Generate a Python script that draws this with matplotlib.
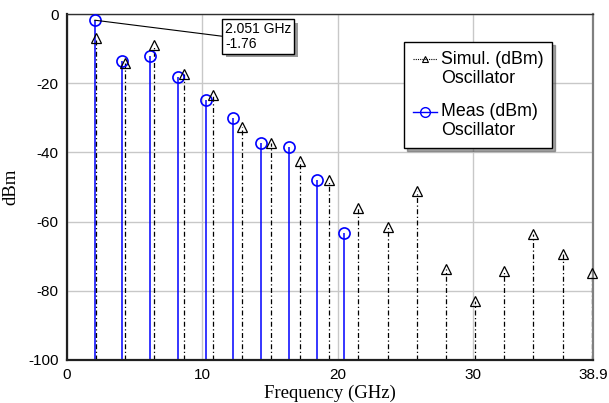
import numpy as np
import matplotlib
matplotlib.use('Agg')
import matplotlib.pyplot as plt
import matplotlib.patheffects as pe
from matplotlib.legend_handler import HandlerLine2D

# harmonic spectrum of the oscillator, simulated vs measured
sim_f0 = 2.155
sim_n = np.arange(1, 19)
sim_dbm = [-6.9, -14.0, -8.9, -17.4, -23.5, -32.5, -37.3, -42.5, -48.1,
           -56.0, -61.6, -51.1, -73.8, -83.0, -74.3, -63.7, -69.4, -74.9]

meas_f0 = 2.051
meas_n = np.arange(1, 11)
meas_dbm = [-1.76, -13.7, -12.2, -18.1, -24.7, -29.9, -37.3, -38.5, -47.9, -63.2]

sim_freq = sim_f0 * sim_n
meas_freq = meas_f0 * meas_n

xticks = [0, 10, 20, 30, 38.9]
xticklabels = ['0', '10', '20', '30', '38.9']
yticks = [0, -20, -40, -60, -80, -100]

sans = ['Liberation Sans', 'DejaVu Sans']
serif = ['Liberation Serif', 'DejaVu Serif']
plt.rcParams['font.family'] = sans
plt.rcParams['axes.unicode_minus'] = False


class FirstLineHandler(HandlerLine2D):
    """Puts the legend sample level with the first line of a two-line label."""
    lift = 7.0

    def create_artists(self, legend, orig_handle, xdescent, ydescent,
                       width, height, fontsize, trans):
        arts = super().create_artists(legend, orig_handle, xdescent, ydescent,
                                      width, height, fontsize, trans)
        for a in arts:
            a.set_ydata(np.asarray(a.get_ydata(), dtype=float) + self.lift)
        return arts


fig = plt.figure(figsize=(6.09, 4.03), dpi=100)
ax = fig.add_axes([0.110, 0.1067, 0.864, 0.8583])
ax.set_xlim(0, 38.9)
ax.set_ylim(-100, 0)

ax.grid(True, color='#c8c8c8', lw=1.0)
ax.set_axisbelow(True)

# stems
ax.vlines(meas_freq, -100, meas_dbm, colors='#0000ff', lw=1.1, zorder=2)
ax.vlines(sim_freq, -100, sim_dbm, colors='black', lw=0.9,
          linestyles=[(0, (4, 2, 1, 2))], zorder=2)

ax.plot(meas_freq, meas_dbm, 'o', ms=8, mfc='none', mec='#0000ff',
        mew=1.2, clip_on=False, zorder=3)
ax.plot(sim_freq, sim_dbm, '^', ms=7.5, mfc='none', mec='black',
        mew=0.9, clip_on=False, zorder=3)

# legend proxies
h_sim, = ax.plot([], [], ls=(0, (1, 1)), color='black', lw=0.8,
                 marker='^', ms=5, mfc='none', mec='black', mew=0.8)
h_meas, = ax.plot([], [], ls='-', color='#0000ff', lw=1.0,
                  marker='o', ms=7, mfc='none', mec='#0000ff', mew=1.0)
leg = ax.legend([h_sim, h_meas], ['Simul. (dBm)\nOscillator', 'Meas (dBm)\nOscillator'],
                loc='upper left', bbox_to_anchor=(0.641, 0.919), borderaxespad=0,
                fontsize=12.8, frameon=True, fancybox=False, shadow=True,
                handlelength=1.35, handletextpad=0.2, labelspacing=0.95,
                borderpad=0.5,
                handler_map={h_sim: FirstLineHandler(), h_meas: FirstLineHandler()})
for t in leg.get_texts():
    t.set_linespacing(1.12)
leg.get_frame().set_edgecolor('black')
leg.get_frame().set_linewidth(1.0)
leg.set_zorder(5)

# marker readout
ann = ax.annotate('2.051 GHz\n-1.76', xy=(meas_freq[0], meas_dbm[0]),
                  xytext=(11.68, -6.5), ha='left', va='center',
                  fontsize=10, linespacing=1.1,
                  bbox=dict(boxstyle='square,pad=0.2', fc='white', ec='black', lw=1.0),
                  arrowprops=dict(arrowstyle='-', color='black', lw=0.8,
                                  shrinkA=0, shrinkB=0, relpos=(0, 0.5)),
                  zorder=6)
ann.get_bbox_patch().set_path_effects([
    pe.SimplePatchShadow(offset=(2.5, -2.5), shadow_rgbFace='#808080', alpha=0.8),
    pe.Normal()])

ax.set_xticks(xticks)
ax.set_xticklabels(xticklabels)
ax.set_yticks(yticks)
ax.tick_params(length=0, labelsize=11, pad=6)

ax.set_xlabel('Frequency (GHz)', family=serif, fontsize=13.5, labelpad=2)
ax.set_ylabel('dBm', family=serif, fontsize=13.5, labelpad=6)

for side in ('left', 'bottom'):
    ax.spines[side].set_linewidth(1.6)
    ax.spines[side].set_color('#202020')
ax.spines['top'].set_linewidth(1.0)
ax.spines['top'].set_color('#303030')
ax.spines['right'].set_linewidth(1.6)
ax.spines['right'].set_color('#808080')

fig.savefig('out.png', dpi=100)
